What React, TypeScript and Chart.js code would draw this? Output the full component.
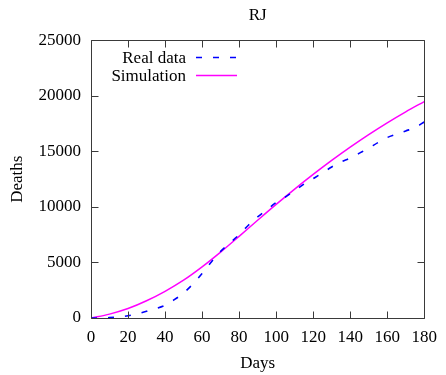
import { useEffect, useRef } from "react";
import { Chart, registerables } from "chart.js";

Chart.register(...registerables);

const titleText = "RJ";
const xTitle = "Days";
const yTitle = "Deaths";

const realLabel = "Real data";
const simLabel = "Simulation";

const realDays = [0, 5, 10, 15, 20, 25, 30, 35, 40, 45, 50, 55, 60, 65, 70, 75, 80, 85, 90, 95, 100, 105, 110, 115, 120, 125, 130, 135, 140, 145, 150, 155, 160, 165, 170, 175, 180];
const realDeaths = [0, 0, 30, 90, 200, 380, 600, 850, 1150, 1650, 2250, 3050, 4000, 5050, 6000, 6750, 7500, 8350, 9100, 9750, 10400, 10900, 11470, 12050, 12550, 13060, 13600, 14050, 14400, 14850, 15300, 15800, 16250, 16550, 16850, 17150, 17650];

const simDays = [0, 10, 20, 30, 40, 50, 60, 70, 80, 90, 100, 110, 120, 130, 140, 150, 160, 170, 180];
const simDeaths = [0, 350, 850, 1550, 2400, 3400, 4600, 5930, 7350, 8800, 10230, 11610, 12930, 14190, 15390, 16520, 17580, 18570, 19490];

const xTicks = [0, 20, 40, 60, 80, 100, 120, 140, 160, 180];
const yTicks = [0, 5000, 10000, 15000, 20000, 25000];

const FONT = '"Liberation Serif", "Times New Roman", serif';
const FS = 17;

const framePlugin = {
  id: "gnuFrame",
  afterDatasetsDraw(chart: any) {
    const { ctx, chartArea: a, scales } = chart;
    const xs = scales.x;
    const ys = scales.y;
    const L = Math.round(a.left) + 0.5;
    const R = Math.round(a.right) + 0.5;
    const T = Math.round(a.top) + 0.5;
    const B = Math.round(a.bottom) + 0.5;
    ctx.save();
    ctx.strokeStyle = "#3a3a3a";
    ctx.lineWidth = 1;
    ctx.setLineDash([]);
    ctx.beginPath();
    ctx.rect(L, T, R - L, B - T);
    ctx.stroke();
    const tl = 7;
    ctx.beginPath();
    xTicks.forEach((v) => {
      const p = Math.round(xs.getPixelForValue(v)) + 0.5;
      ctx.moveTo(p, B);
      ctx.lineTo(p, B - tl);
      ctx.moveTo(p, T);
      ctx.lineTo(p, T + tl);
    });
    yTicks.forEach((v) => {
      const p = Math.round(ys.getPixelForValue(v)) + 0.5;
      ctx.moveTo(L, p);
      ctx.lineTo(L + tl, p);
      ctx.moveTo(R, p);
      ctx.lineTo(R - tl, p);
    });
    ctx.stroke();
    ctx.restore();
  },
  afterDraw(chart: any) {
    const { ctx } = chart;
    const textRight = 186;
    const lineStart = 196;
    const lineEnd = 237;
    const rows = [57.5, 75.5];
    ctx.save();
    ctx.font = `${FS}px ${FONT}`;
    ctx.fillStyle = "#000";
    ctx.textAlign = "right";
    ctx.textBaseline = "middle";
    chart.data.datasets.forEach((ds: any, i: number) => {
      const y = rows[i];
      ctx.fillText(ds.label, textRight, y + 1);
      ctx.strokeStyle = ds.borderColor;
      ctx.lineWidth = ds.borderWidth;
      ctx.setLineDash(ds.borderDash || []);
      ctx.lineCap = "butt";
      ctx.beginPath();
      ctx.moveTo(lineStart, y);
      ctx.lineTo(lineEnd, y);
      ctx.stroke();
    });
    ctx.restore();
  },
};

export default function App() {
  const ref = useRef<HTMLCanvasElement | null>(null);

  useEffect(() => {
    document.body.style.margin = "0";
    if (!ref.current) return;
    const chart = new Chart(ref.current, {
      type: "line",
      data: {
        datasets: [
          {
            label: realLabel,
            data: realDays.map((d, i) => ({ x: d, y: realDeaths[i] })),
            borderColor: "#0000ff",
            borderWidth: 1.6,
            borderDash: [6, 11],
            pointRadius: 0,
            fill: false,
            cubicInterpolationMode: "monotone",
          },
          {
            label: simLabel,
            data: simDays.map((d, i) => ({ x: d, y: simDeaths[i] })),
            borderColor: "#ff00ff",
            borderWidth: 1.5,
            pointRadius: 0,
            fill: false,
            cubicInterpolationMode: "monotone",
          },
        ],
      },
      options: {
        animation: false,
        responsive: true,
        maintainAspectRatio: false,
        layout: { padding: { top: 0, left: 0, right: 18, bottom: 0 } },
        plugins: {
          legend: { display: false },
          tooltip: { enabled: false },
          title: {
            display: true,
            text: titleText,
            fullSize: false,
            color: "#000",
            font: { family: FONT, size: FS, weight: "normal" },
            padding: { top: 5, bottom: 15 },
          },
        },
        scales: {
          x: {
            type: "linear",
            min: 0,
            max: 180,
            grid: { display: false, drawTicks: false },
            border: { display: false },
            ticks: {
              stepSize: 20,
              padding: 9,
              color: "#000",
              font: { family: FONT, size: FS },
              maxRotation: 0,
              callback: (v: any) => String(v),
            },
            title: {
              display: true,
              text: xTitle,
              color: "#000",
              font: { family: FONT, size: FS },
              padding: { top: 0, bottom: 1 },
            },
            afterFit: (s: any) => {
              s.height = 57;
            },
          },
          y: {
            type: "linear",
            min: 0,
            max: 25000,
            grid: { display: false, drawTicks: false },
            border: { display: false },
            ticks: {
              stepSize: 5000,
              padding: 10,
              color: "#000",
              font: { family: FONT, size: FS },
              callback: (v: any) => String(v),
            },
            title: {
              display: true,
              text: yTitle,
              color: "#000",
              font: { family: FONT, size: FS },
              padding: { top: 7, bottom: 0 },
            },
            afterFit: (s: any) => {
              s.width = 91;
            },
          },
        },
      },
      plugins: [framePlugin],
    });
    return () => chart.destroy();
  }, []);

  return (
    <div style={{ position: "absolute", left: 0, top: 0, width: 446, height: 375, background: "#fff" }}>
      <canvas ref={ref} />
    </div>
  );
}
